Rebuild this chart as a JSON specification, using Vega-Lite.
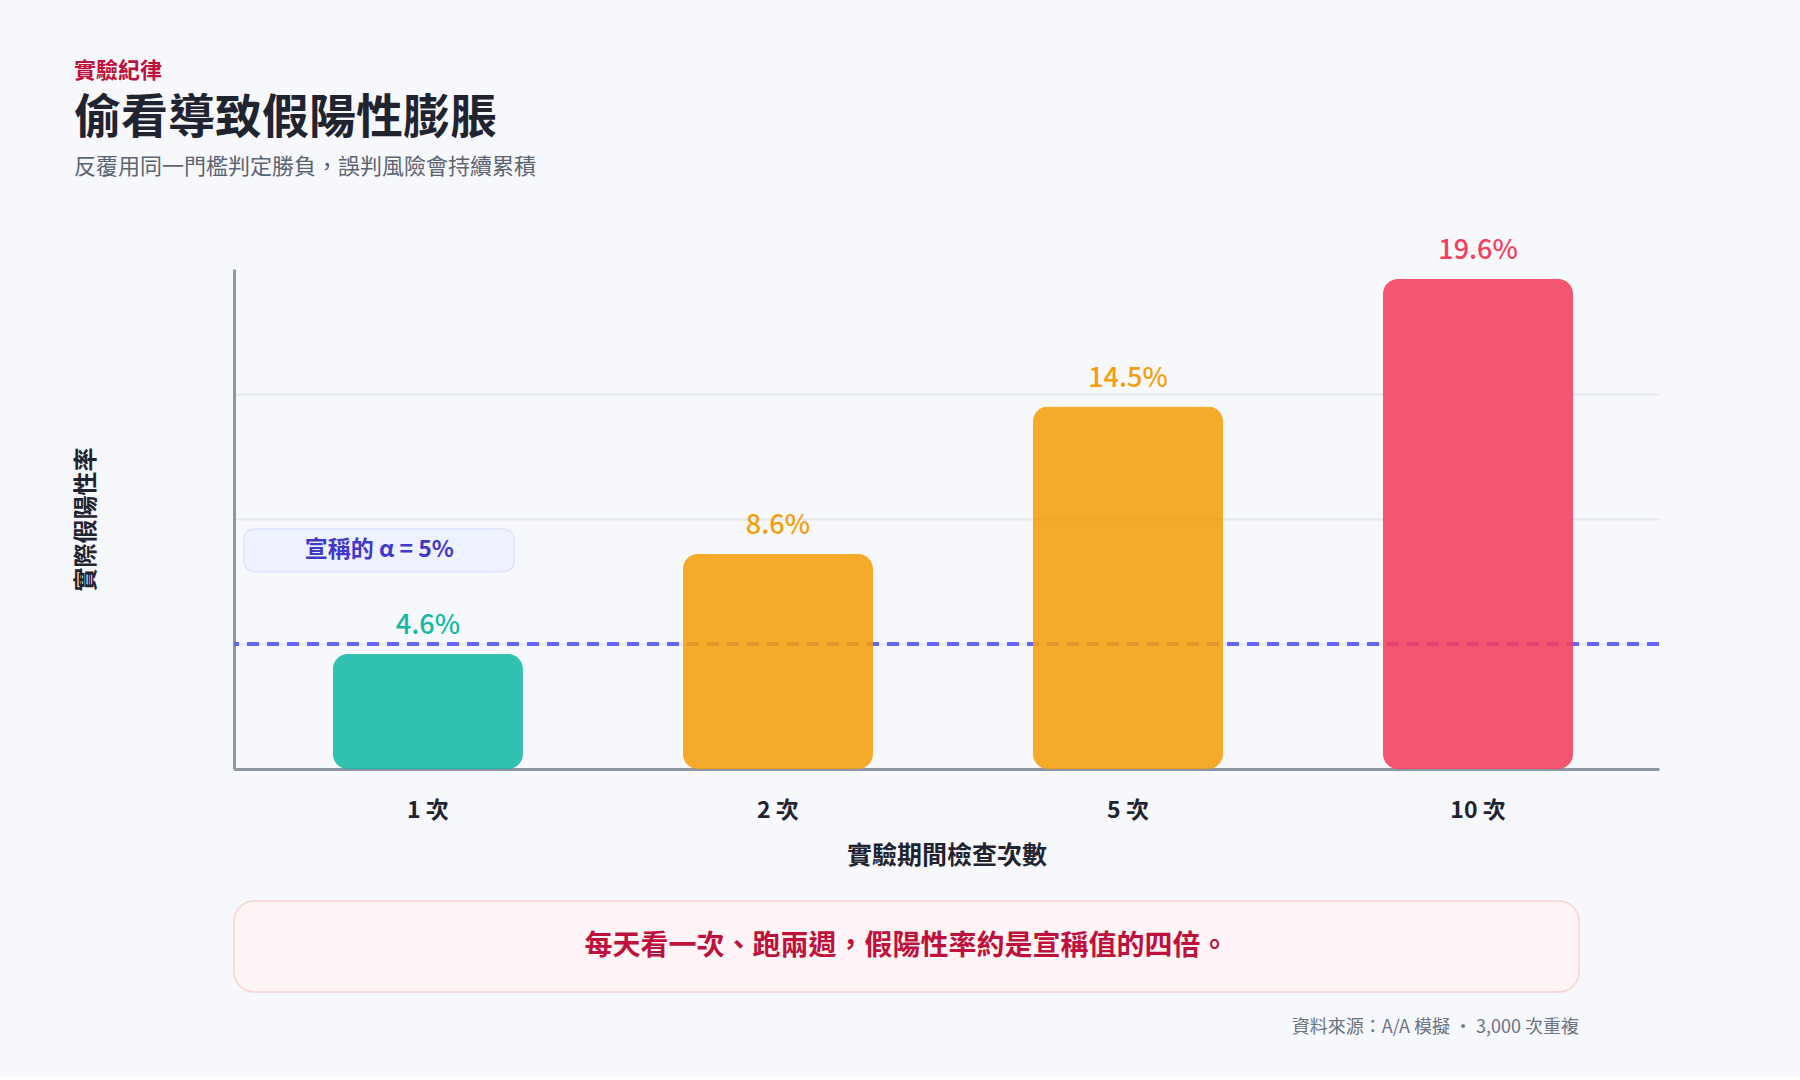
{
  "$schema": "https://vega.github.io/schema/vega-lite/v6.json",
  "background": "#f7f8fb",
  "padding": {"left": 74, "top": 60, "right": 140, "bottom": 39},
  "title": {
    "text": "實驗紀律",
    "anchor": "start",
    "frame": "bounds",
    "fontSize": 22,
    "fontWeight": "bold",
    "color": "#be123c",
    "offset": 12
  },
  "bounds": "flush",
  "spacing": 132,
  "vconcat": [
    {
      "width": 1425,
      "height": 500,
      "title": {
        "text": "偷看導致假陽性膨脹",
        "subtitle": "反覆用同一門檻判定勝負，誤判風險會持續累積",
        "anchor": "start",
        "frame": "bounds",
        "fontSize": 47,
        "fontWeight": "bold",
        "color": "#1f2430",
        "subtitleFontSize": 22,
        "subtitleColor": "#5b6472",
        "subtitleFontWeight": "normal",
        "subtitlePadding": 14,
        "offset": 58
      },
      "layer": [
        {
          "data": {
            "values": [
              {"checks": "1 次", "rate": 0.046},
              {"checks": "2 次", "rate": 0.086},
              {"checks": "5 次", "rate": 0.145},
              {"checks": "10 次", "rate": 0.196}
            ]
          },
          "encoding": {
            "x": {
              "field": "checks",
              "type": "nominal",
              "sort": null,
              "scale": {"paddingInner": 0.457, "paddingOuter": 0.264, "align": 0.535},
              "axis": {
                "title": "實驗期間檢查次數",
                "labelAngle": 0,
                "labelFontSize": 23,
                "labelFontWeight": 600,
                "labelColor": "#1f2430",
                "labelPadding": 30,
                "ticks": false,
                "domainColor": "#8e96a6",
                "domainWidth": 3,
                "titleFontSize": 25,
                "titleFontWeight": "bold",
                "titleColor": "#1f2430",
                "titlePadding": 21
              }
            },
            "y": {
              "field": "rate",
              "type": "quantitative",
              "scale": {"domain": [0, 0.2]},
              "axis": {
                "title": "實際假陽性率",
                "values": [0.05, 0.1, 0.15],
                "labels": false,
                "ticks": false,
                "domainColor": "#8e96a6",
                "domainWidth": 3,
                "grid": true,
                "gridColor": "#e4e6ee",
                "gridWidth": 2,
                "titleFontSize": 24,
                "titleFontWeight": "bold",
                "titleColor": "#1f2430",
                "titlePadding": 136
              }
            }
          },
          "layer": [
            {
              "mark": {"type": "rule", "color": "#6366f1", "strokeWidth": 3.5, "strokeDash": [12, 8]},
              "encoding": {
                "x": null,
                "y": {"datum": 0.05, "type": "quantitative"}
              }
            },
            {
              "mark": {"type": "bar", "cornerRadius": 15, "opacity": 0.88},
              "encoding": {
                "color": {
                  "field": "checks",
                  "type": "nominal",
                  "scale": {
                    "domain": ["1 次", "2 次", "5 次", "10 次"],
                    "range": ["#14b8a6", "#f59e0b", "#f59e0b", "#f43f5e"]
                  },
                  "legend": null
                }
              }
            },
            {
              "mark": {"type": "text", "baseline": "alphabetic", "dy": -20, "fontSize": 27, "fontWeight": 500},
              "encoding": {
                "text": {"field": "rate", "type": "quantitative", "format": ".1%"},
                "color": {"field": "checks", "type": "nominal", "legend": null}
              }
            }
          ]
        },
        {
          "data": {"values": [{"label": "宣稱的 α = 5%"}]},
          "encoding": {
            "x": {"datum": 0.7, "type": "quantitative", "scale": {"domain": [0, 100]}, "axis": null},
            "y": {"datum": 0.0789, "type": "quantitative"}
          },
          "layer": [
            {
              "mark": {"type": "rect", "fill": "#eef2ff", "stroke": "#dde3fb", "strokeWidth": 1.5, "cornerRadius": 10},
              "encoding": {
                "x2": {"datum": 19.65},
                "y2": {"datum": 0.096}
              }
            },
            {
              "mark": {"type": "text", "fontSize": 23, "fontWeight": "bold", "color": "#4338ca", "baseline": "middle"},
              "encoding": {
                "x": {"datum": 10.2, "type": "quantitative"},
                "y": {"datum": 0.0875, "type": "quantitative"},
                "text": {"field": "label"}
              }
            }
          ]
        }
      ],
      "resolve": {"scale": {"x": "independent"}}
    },
    {
      "width": 1345,
      "height": 91,
      "view": {"fill": "#fff5f6", "stroke": "#f7d3d6", "strokeWidth": 1.5, "cornerRadius": 20},
      "title": {
        "text": "資料來源：A/A 模擬 · 3,000 次重複",
        "orient": "bottom",
        "anchor": "end",
        "frame": "group",
        "fontSize": 18,
        "fontWeight": "normal",
        "color": "#6b7280",
        "offset": 27
      },
      "data": {"values": [{"note": "每天看一次、跑兩週，假陽性率約是宣稱值的四倍。"}]},
      "mark": {"type": "text", "fontSize": 28, "fontWeight": "bold", "color": "#be123c", "baseline": "middle"},
      "encoding": {"text": {"field": "note"}}
    }
  ],
  "config": {
    "font": "Noto Sans CJK TC",
    "view": {"stroke": null}
  }
}
